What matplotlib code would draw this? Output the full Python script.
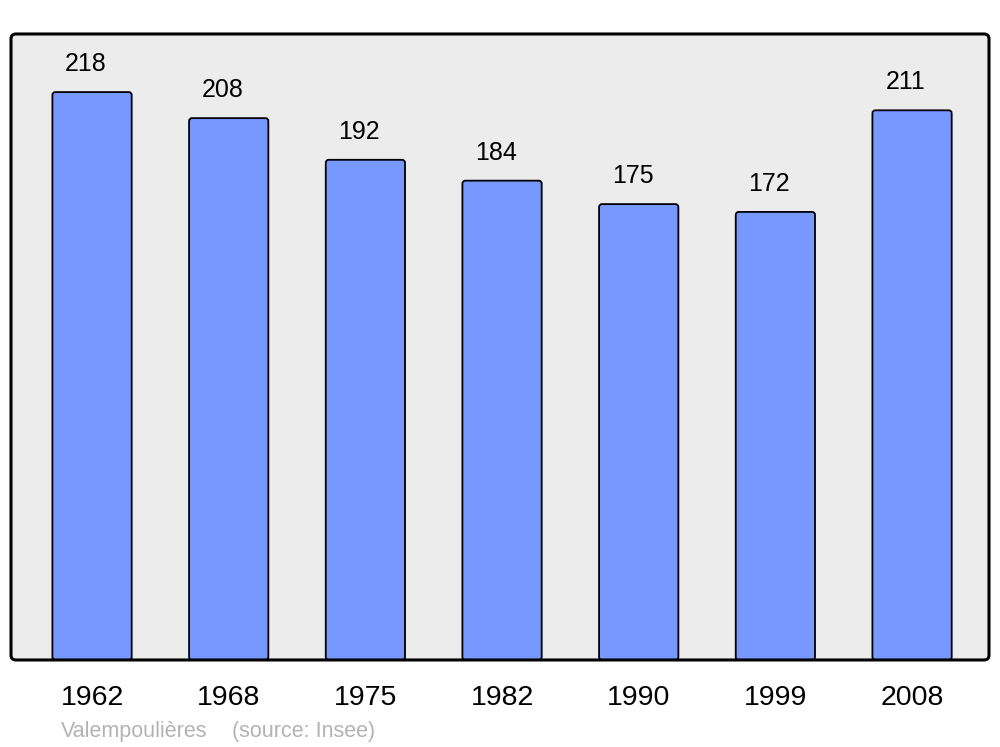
import matplotlib
matplotlib.use("Agg")
import matplotlib.pyplot as plt
from matplotlib.patches import FancyBboxPatch

years = ["1962", "1968", "1975", "1982", "1990", "1999", "2008"]
population = [218, 208, 192, 184, 175, 172, 211]
commune = "Valempoulières"
source = "(source: Insee)"

plt.rcParams['font.family'] = ['Liberation Sans', 'DejaVu Sans']

fig = plt.figure(figsize=(10, 7.47), dpi=100)
ax = fig.add_axes([0.011, 0.1165, 0.978, 0.838])
ax.set_facecolor('none')
for s in ax.spines.values():
    s.set_visible(False)

x = list(range(len(years)))
bars = ax.bar(x, population, width=0.58, color='#7799ff', edgecolor='black', linewidth=1.3)
ax.set_xlim(-0.593, 6.563)
ax.set_ylim(0, 240.3)

# frame with rounded corners
frame = FancyBboxPatch((0, 0), 1, 1, boxstyle="round,pad=0,rounding_size=0.005",
                       mutation_aspect=978/626, transform=ax.transAxes,
                       facecolor='#ececec', edgecolor='none',
                       zorder=0, clip_on=False)
ax.add_patch(frame)
frame2 = FancyBboxPatch((0, 0), 1, 1, boxstyle="round,pad=0,rounding_size=0.005",
                        mutation_aspect=978/626, transform=ax.transAxes,
                        facecolor='none', edgecolor='black', linewidth=2.2,
                        zorder=5, clip_on=False)
ax.add_patch(frame2)

# rounded bars
px_x = 1 / 136.67
px_y = 1 / 2.6055
for r in bars:
    bx, by, bw, bh = r.get_x(), r.get_y(), r.get_width(), r.get_height()
    r.set_visible(False)
    p = FancyBboxPatch((bx, by), bw, bh,
                       boxstyle=f"round,pad=0,rounding_size={3*px_x}",
                       mutation_aspect=px_y / px_x,
                       facecolor='#7799ff', edgecolor='black', linewidth=1.3, zorder=2)
    ax.add_patch(p)

for xi, v in zip(x, population):
    ax.annotate(str(v), (xi, v), xytext=(-4.5, 20.2), textcoords='offset points',
                ha='center', va='center', fontsize=18, color='black')

ax.set_xticks(x)
ax.set_xticklabels(years, fontsize=20.5)
ax.tick_params(axis='x', length=0, pad=18)
ax.set_yticks([])

fig.text(0.061, 0.0134, commune, fontsize=15.5, color='#b3b3b3',
         ha='left', va='baseline')
fig.text(0.232, 0.0134, source, fontsize=15.5, color='#b3b3b3',
         ha='left', va='baseline')

fig.savefig("out.png", dpi=100, facecolor='white')
